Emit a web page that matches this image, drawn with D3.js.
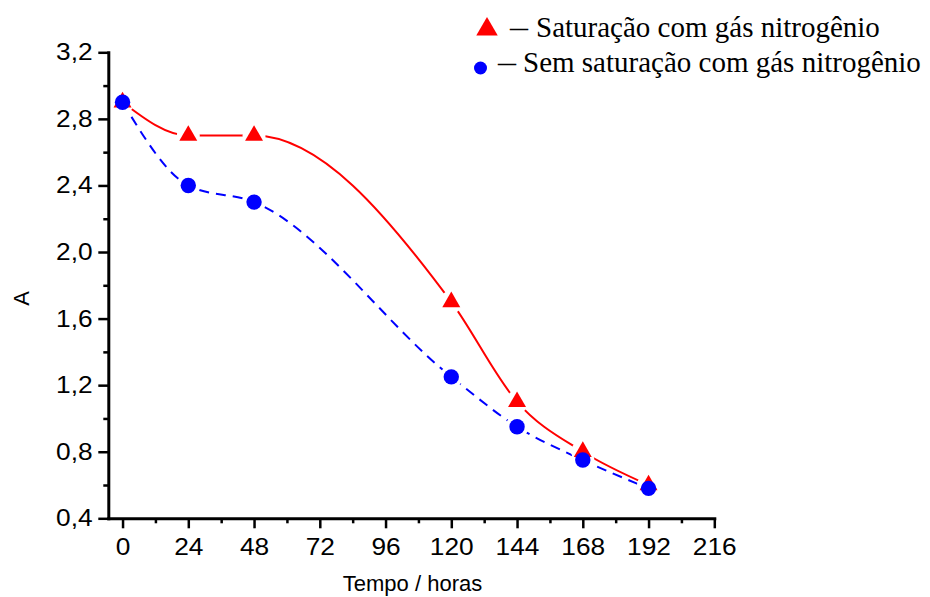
<!DOCTYPE html>
<meta charset="utf-8">
<html>
<head>
  <title>Absorbance vs time</title>
  <style>
    body { margin: 0; background: #fff; }
    svg { width: 930px; height: 597px; display: block; }
    .axis text { font-family: 'Liberation Sans', Arial, sans-serif; font-size: 23.5px; fill: #000; }
    .axis path, .axis line { stroke: #000; }
    .axis .domain { stroke-width: 3; stroke-linecap: square; }
    .axis .tick line { stroke-width: 2.5; }
    .axislabel { font-family: 'Liberation Sans', Arial, sans-serif; font-size: 22px; text-anchor: middle; }
    .legend text { font-family: 'Liberation Serif', 'Times New Roman', serif; font-size: 29px; }
  </style>
  <script src="https://d3js.org/d3.v7.min.js"></script>
</head>
<body>
  <svg></svg>
  <script>
    // data
    var hours = [0, 24, 48, 120, 144, 168, 192];
    var withN2 = [2.9, 2.7, 2.7, 1.7, 1.1, 0.8, 0.6];        // triangles
    var withoutN2 = [2.9, 2.4, 2.3, 1.25, 0.95, 0.75, 0.58]; // circles

    var xTicks = [0, 24, 48, 72, 96, 120, 144, 168, 192, 216];
    var xMinor = [12, 36, 60, 84, 108, 132, 156, 180, 204];
    var yTicks = [0.4, 0.8, 1.2, 1.6, 2.0, 2.4, 2.8, 3.2];
    var yMinor = [0.6, 1.0, 1.4, 1.8, 2.2, 2.6, 3.0];

    var legendLabels = ["Saturação com gás nitrogênio", "Sem saturação com gás nitrogênio"];

    var svg = d3.select("svg");

    var x = d3.scaleLinear().domain([-5.2, 216]).range([108.3, 714.3]);
    var y = d3.scaleLinear().domain([0.4, 3.2]).range([518.3, 52.3]);

    var fmt = function(d) { return d.toFixed(1).replace(".", ","); };

    // minor ticks first, then the main axes on top
    svg.append("g")
      .attr("class", "axis")
      .attr("transform", "translate(0," + y.range()[0] + ")")
      .call(d3.axisBottom(x).tickValues(xMinor).tickSize(5).tickSizeOuter(0).tickFormat(""))
      .select(".domain").remove();

    svg.append("g")
      .attr("class", "axis")
      .attr("transform", "translate(" + x.range()[0] + ",0)")
      .call(d3.axisLeft(y).tickValues(yMinor).tickSize(5).tickSizeOuter(0).tickFormat(""))
      .select(".domain").remove();

    var gx = svg.append("g")
      .attr("class", "axis")
      .attr("transform", "translate(0," + y.range()[0] + ")")
      .call(d3.axisBottom(x).tickValues(xTicks).tickSize(10).tickSizeOuter(0).tickPadding(10));

    var gy = svg.append("g")
      .attr("class", "axis")
      .attr("transform", "translate(" + x.range()[0] + ",0)")
      .call(d3.axisLeft(y).tickValues(yTicks).tickSize(10).tickSizeOuter(0).tickPadding(4).tickFormat(fmt));

    // the original tick font is a bit wider than Arial
    gx.selectAll(".tick text").attr("transform", "scale(1.12,1)");
    gy.selectAll(".tick text").attr("transform", "scale(1.12,1)");

    // axis titles
    svg.append("text")
      .attr("class", "axislabel")
      .attr("x", 412.5)
      .attr("y", 591)
      .text("Tempo / horas");

    svg.append("text")
      .attr("class", "axislabel")
      .attr("transform", "translate(29,298.3) rotate(-90)")
      .text("A");

    var red = "#ff0000", blue = "#0000ff";
    var triangle = d3.symbol().type(d3.symbolTriangle).size(140);

    var line = d3.line()
      .x(function(d) { return x(d[0]); })
      .y(function(d) { return y(d[1]); })
      .curve(d3.curveMonotoneX);

    var redPts = d3.zip(hours, withN2);
    var bluePts = d3.zip(hours, withoutN2);

    svg.append("path")
      .attr("d", line(redPts))
      .attr("fill", "none")
      .attr("stroke", red)
      .attr("stroke-width", 2);

    svg.append("path")
      .attr("d", line(bluePts))
      .attr("fill", "none")
      .attr("stroke", blue)
      .attr("stroke-width", 2)
      .attr("stroke-dasharray", "10,7");

    // white gaps around the symbols, like the original plot
    svg.selectAll(".gap")
      .data(redPts.concat(bluePts))
      .enter().append("circle")
        .attr("class", "gap")
        .attr("cx", function(d) { return x(d[0]); })
        .attr("cy", function(d) { return y(d[1]); })
        .attr("r", 11.5)
        .attr("fill", "#fff");

    svg.selectAll(".tri")
      .data(redPts)
      .enter().append("path")
        .attr("class", "tri")
        .attr("d", triangle)
        .attr("transform", function(d) { return "translate(" + x(d[0]) + "," + y(d[1]) + ")"; })
        .attr("fill", red);

    svg.selectAll(".dot")
      .data(bluePts)
      .enter().append("circle")
        .attr("class", "dot")
        .attr("cx", function(d) { return x(d[0]); })
        .attr("cy", function(d) { return y(d[1]); })
        .attr("r", 7.7)
        .attr("fill", blue);

    // legend
    var legend = svg.append("g").attr("class", "legend");

    legend.append("path")
      .attr("d", d3.symbol().type(d3.symbolTriangle).size(200)())
      .attr("transform", "translate(487,29.3)")
      .attr("fill", red);
    legend.append("text").attr("x", 510).attr("y", 36.5)
      .attr("textLength", 18).attr("lengthAdjust", "spacingAndGlyphs").text("–");
    legend.append("text").attr("x", 536).attr("y", 36.5).text(legendLabels[0]);

    legend.append("circle")
      .attr("cx", 480.5).attr("cy", 68).attr("r", 6.5)
      .attr("fill", blue);
    legend.append("text").attr("x", 498).attr("y", 71.5)
      .attr("textLength", 18).attr("lengthAdjust", "spacingAndGlyphs").text("–");
    legend.append("text").attr("x", 523).attr("y", 71.5).text(legendLabels[1]);
  </script>
</body>
</html>
